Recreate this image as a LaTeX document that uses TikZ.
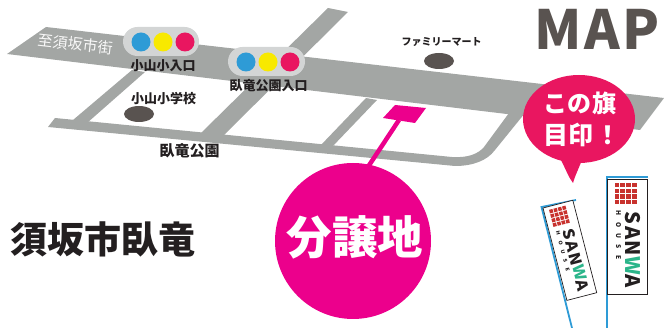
\documentclass[tikz,border=0pt]{standalone}
\usepackage{fontspec}
\setmainfont{Noto Sans CJK JP}
\newcommand{\fsz}[1]{\fontsize{#1}{#1}\selectfont}
\definecolor{roadgrey}{HTML}{A3A6A4}
\definecolor{pillgrey}{HTML}{D3D5D5}
\definecolor{lightblue}{HTML}{2E9BD6}
\definecolor{lightyellow}{HTML}{F8E900}
\definecolor{lightpink}{HTML}{E91660}
\definecolor{lotpink}{HTML}{EC008C}
\definecolor{darkbrown}{HTML}{595350}
\definecolor{sanwagreen}{HTML}{2BB58A}
\definecolor{sanwared}{HTML}{C8322E}
\definecolor{inktext}{HTML}{231F20}
\tikzset{
  road/.style={fill=roadgrey,draw=none},
  pill/.style={fill=pillgrey,draw=none,rounded corners=14.5pt},
  lamp/.style={circle,draw=none,minimum size=19pt,inner sep=0pt},
  landmark/.style={ellipse,fill=darkbrown,draw=none,minimum width=30pt,minimum height=16pt,inner sep=0pt},
  maplabel/.style={inner sep=0pt,text=inktext,font=\bfseries\fsz{13}},
  pole/.style={draw=lightblue,line width=1.8pt},
}
\usetikzlibrary{shapes.geometric}
\newcommand{\bannerbody}[1]{%
  \fill[white] (0,0) rectangle (40,#1);
  \draw[inktext,line width=.7pt] (0,0) rectangle (40,#1);
  \foreach \i in {0,...,3}{\foreach \j in {0,...,3}{
    \fill[sanwared] (7+5.8*\i,4+5.6*\j) rectangle +(4.6,4.4);}}
  \node[rotate=-90,transform shape,inner sep=0pt,text height=14pt,text depth=0pt,text=inktext,font=\bfseries\fsz{20}\addfontfeature{LetterSpace=8}] (sanwa) at (24.5,71) {SAN{\color{sanwagreen}W}A};
  \foreach \c/\p in {H/34,O/46,U/57,S/68,E/79}{
    \node[rotate=-90,transform shape,inner sep=0pt,text height=4pt,text depth=0pt,text=inktext,font=\bfseries\fsz{6.5}] at (10.5,\p) {\c};}
}
\begin{document}
\begin{tikzpicture}[x=1pt,y=-1pt]
\useasboundingbox (0,0) rectangle (664,328);
% roads
\fill[road] (7,54) -- (46,27) -- (664,98) -- (640,130) -- cycle;
\fill[road] (73,120) -- (132,70) -- (145,72) -- (87,123) -- cycle;
\fill[road] (200,134) -- (328,8) -- (348,12) -- (223,136) -- cycle;
\fill[road] (320,146) -- (366,98) -- (377,100) -- (332,147) -- cycle;
\fill[road] (48,127) -- (55,118) -- (452,157) .. controls (468,158) and (478,154) .. (484,147)
  -- (509,113) -- (525,113) -- (495,150) .. controls (487,161) and (472,166) .. (455,166) -- cycle;
% street label
\node[rotate=-6.5,inner sep=0pt,text=white!92!roadgrey,font=\fsz{15}] (street) at (75.5,44) {至須坂市街};
% traffic lights
\fill[pill] (123,27) rectangle (199,56);
\node[lamp,fill=lightblue] (a1) at (141,42) {};
\node[lamp,fill=lightyellow] (a2) at (163,42) {};
\node[lamp,fill=lightpink] (a3) at (185,42) {};
\fill[pill] (228,47) rectangle (305,76);
\node[lamp,fill=lightblue] (b1) at (246,62) {};
\node[lamp,fill=lightyellow] (b2) at (268,62) {};
\node[lamp,fill=lightpink] (b3) at (290,62) {};
% labels
\node[maplabel] (koyamaent) at (163,65.5) {小山小入口};
\node[maplabel] (garyuent) at (268.5,86) {臥竜公園入口};
\node[maplabel] (koyamasch) at (163.5,98.5) {小山小学校};
\node[maplabel,font=\bfseries\fsz{15}] (garyu) at (189.5,150.5) {臥竜公園};
\node[maplabel,font=\bfseries\fsz{10}] (fami) at (441.5,42) {ファミリーマート};
\node[landmark] (schoolmark) at (139,114) {};
\node[landmark] (famimark) at (439,61) {};
% MAP
\node[inner sep=0pt,text=darkbrown,font=\bfseries\fsz{54}\addfontfeature{LetterSpace=5}] (map) at (597,29) {MAP};
\node[inner sep=0pt,text=inktext,font=\bfseries\fsz{37}] (place) at (103,239) {須坂市臥竜};
% lot and circle
\coordinate (lotfoot) at (399,120);
\coordinate (circletop) at (362,176);
\fill[lotpink] (395,105) -- (426,108) -- (415,123) -- (383,118) -- cycle;
\draw[lotpink,line width=4.5pt] (lotfoot) -- (circletop);
\node[circle,fill=lotpink,minimum size=156pt,inner sep=0pt] (lotcircle) at (353,241) {};
\node[inner sep=0pt,text=white,font=\bfseries\fsz{45.5}] (lotlabel) at (355,237) {分譲地};
% balloon
\fill[lightpink] (579,119) ellipse [x radius=56, y radius=44];
\fill[lightpink] (561,160) .. controls (566,170) and (569,178) .. (573,183) .. controls (575,176) and (578,170) .. (582,160) -- cycle;
\node[inner sep=0pt,text=white,font=\bfseries\fsz{24}] (bal1) at (580,103) {この\hspace{2pt}旗};
\node[inner sep=0pt,text=white,font=\bfseries\fsz{25}] (bal2) at (582,135) {目印\hspace{2pt}！};
% flags
\draw[pole] (648,177) -- (607,177) -- (607,328);
\begin{scope}[shift={(607.5,179)}]
  \bannerbody{115}
\end{scope}
\draw[pole] (576,200) -- (541.5,207) -- (572,328);
\begin{scope}[shift={(543,208)},rotate=14.5,xscale=.77,yscale=.83]
  \bannerbody{115}
\end{scope}
\end{tikzpicture}
\end{document}
